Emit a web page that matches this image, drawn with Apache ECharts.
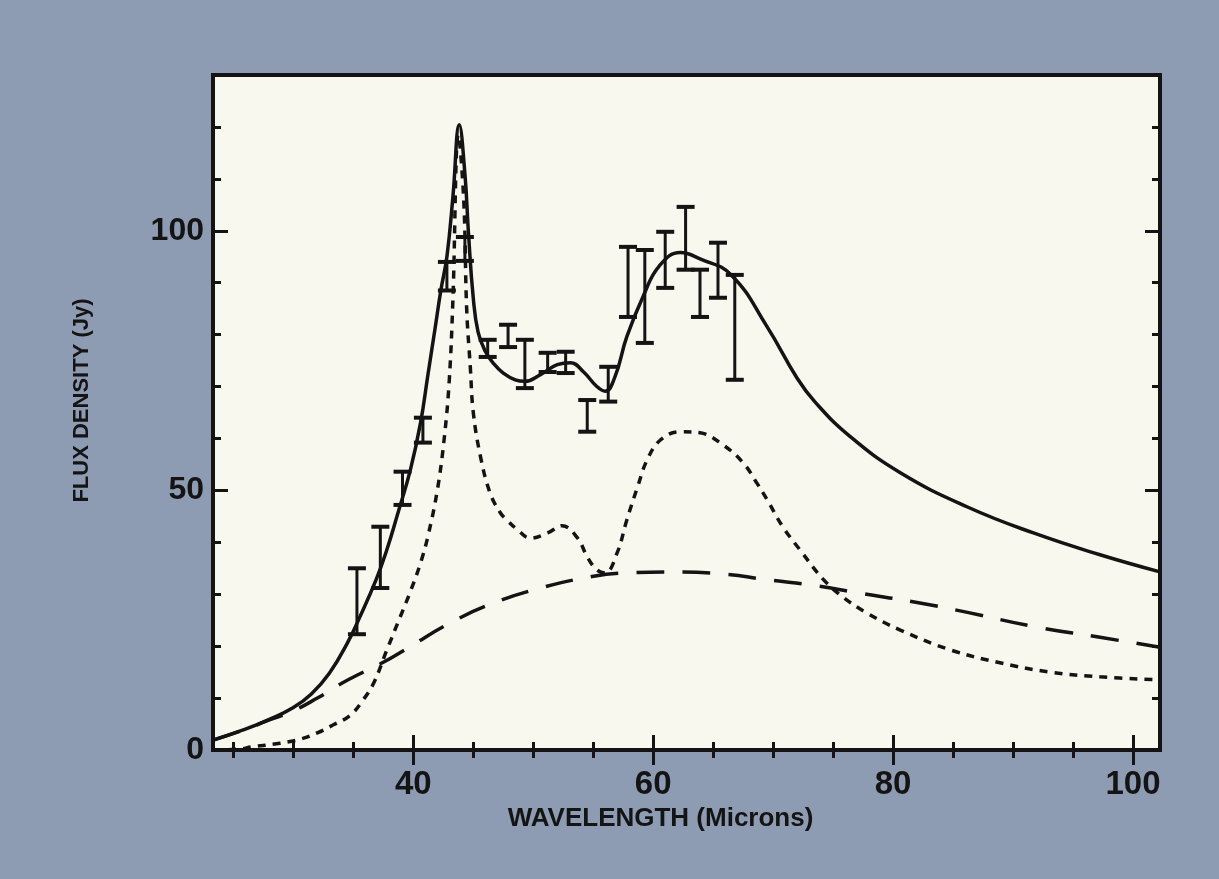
<!DOCTYPE html>
<html>
<head>
<meta charset="utf-8">
<title>Flux density vs wavelength</title>
<script src="https://cdn.jsdelivr.net/npm/echarts@6/dist/echarts.min.js"></script>
<style>
  html, body { margin: 0; padding: 0; background: #8e9cb3; }
  #chart { width: 1219px; height: 879px; }
</style>
</head>
<body>
<div id="chart"></div>
<script>
// wavelength (microns) / flux density (Jy)
const totalFit = [
  [23.3, 1.9], [26, 4.0], [28, 5.9], [30, 8.2], [31.5, 10.8], [33, 14.8], [34.5, 20.6],
  [35.5, 25.4], [36.9, 32.8], [37.8, 38.6], [38.7, 45.5], [39.75, 53.9], [40.6, 63],
  [41.2, 72], [41.8, 81], [42.3, 88.6], [42.8, 95], [43.3, 106.5], [43.83, 120.4],
  [44.3, 111], [44.6, 99.5], [45.0, 87], [45.4, 80.5], [46.0, 76.8], [46.7, 74.4],
  [47.5, 72.6], [48.5, 71.3], [49.3, 71.0], [50.6, 72.3], [52.0, 74.2], [53.1, 74.6],
  [54.2, 72.8], [55.3, 70], [56.0, 69.1], [56.8, 71.8], [57.8, 79.6], [59.2, 87.6],
  [60.5, 93.2], [62.25, 95.8], [63.9, 94.6], [66.5, 91.5], [69.5, 81.5], [72, 71.6],
  [73.5, 67.0], [76.4, 60.4], [80.6, 53.4], [86.2, 46.8], [91.7, 41.8], [97.25, 37.6],
  [102.25, 34.3]
];
const bandFit = [
  [23.3, 0], [25.6, 0.2], [26.5, 0.6], [28.9, 1.3], [30.6, 2.1], [32, 3.3], [33.3, 4.8],
  [34.75, 6.7], [35.8, 9.6], [36.7, 12.9], [37.8, 19.3], [38.9, 25.6], [39.75, 30.5],
  [40.6, 36], [41.2, 41], [42.0, 50], [42.6, 60.5], [43.0, 71.3], [43.3, 86.7],
  [43.75, 118.5], [44.2, 106], [44.45, 84.8], [44.75, 73.8], [45, 65], [45.6, 56.5],
  [46.4, 49.5], [47.25, 45.7], [47.8, 44.3], [48.7, 42.4], [49.75, 40.8], [51.2, 41.8],
  [52.4, 43.2], [53.7, 40.8], [54.5, 37.2], [55.3, 34.7], [56.0, 34.1], [57.0, 38],
  [57.8, 44.3], [58.7, 50.7], [59.5, 55.9], [60.6, 59.7], [62.25, 61.3], [63.9, 61.1],
  [65.8, 58.8], [67.5, 55.3], [68.7, 51.2], [69.5, 48.2], [70.8, 43], [72.25, 38.5],
  [74.2, 32.8], [75.8, 29.5], [77.8, 26.4], [80.6, 23.1], [84.75, 19.3], [88.9, 16.8],
  [93.1, 15], [97.25, 14.1], [102.25, 13.5]
];
const continuumFit = [
  [23.3, 1.9], [26, 4.0], [28, 5.8], [29.75, 7.3], [32, 10], [34, 12.8], [36, 15.2],
  [37.5, 16.9], [39.5, 19.6], [43.1, 24.5], [46.7, 28.3], [50.6, 31.2], [54.2, 33.1],
  [57.5, 34.1], [61.7, 34.3], [65.8, 33.9], [69.5, 32.8], [73.7, 31.6], [77.25, 30.2],
  [82, 28.4], [86.2, 26.5], [91.7, 23.8], [97.25, 21.7], [102.25, 19.8]
];

// measured points with error bars
const errX    = [35.3, 37.25, 39.1, 40.8, 42.8, 44.3, 46.2, 47.9, 49.3, 51.2, 52.7, 54.5, 56.25, 57.9, 59.3, 61.0, 62.7, 63.9, 65.4, 66.8];
const errLow  = [22.3, 31.2, 47.2, 59.2, 88.5, 94.2, 75.7, 77.6, 69.7, 72.8, 72.6, 61.3, 67.1, 83.4, 78.4, 89.0, 92.5, 83.4, 87.1, 71.3];
const errHigh = [35.0, 43.0, 53.6, 64.0, 94.0, 98.8, 79.0, 81.9, 79.0, 76.5, 76.7, 67.4, 73.8, 96.9, 96.3, 99.8, 104.6, 92.5, 97.7, 91.5];

// ticks
const xMinorTicks = [25, 30, 35, 40, 45, 50, 55, 60, 65, 70, 75, 80, 85, 90, 95, 100];
const xLabels = [40, 60, 80, 100];
const yMinorTicks = [10, 20, 30, 40, 50, 60, 70, 80, 90, 100, 110, 120];
const yLabels = [0, 50, 100];

const ink = '#141414';
const font = "'Liberation Sans', Arial, sans-serif";
const xMin = 23.3, xMax = 102.25, yMin = 0, yMax = 130;

function xAxisOf(position, ticks, len, labels) {
  return {
    type: 'value', position: position, min: xMin, max: xMax,
    axisLine: { show: false },
    splitLine: { show: false },
    axisTick: { show: true, inside: true, length: len, customValues: ticks,
                lineStyle: { color: ink, width: 3 } },
    axisLabel: labels ? { customValues: labels, margin: 18, color: ink,
                          fontSize: 33, fontWeight: 'bold', fontFamily: font }
                      : { show: false }
  };
}
function yAxisOf(position, ticks, len, labels) {
  return {
    type: 'value', position: position, min: yMin, max: yMax,
    axisLine: { show: false },
    splitLine: { show: false },
    axisTick: { show: true, inside: true, length: len, customValues: ticks,
                lineStyle: { color: ink, width: 3 } },
    axisLabel: labels ? { customValues: labels, margin: 9, color: ink,
                          fontSize: 32, fontWeight: 'bold', fontFamily: font }
                      : { show: false }
  };
}

const xAxes = [
  xAxisOf('bottom', xMinorTicks, 8, xLabels),
  xAxisOf('bottom', xLabels, 15, null),
  xAxisOf('top', xMinorTicks, 8, null),
  xAxisOf('top', xLabels, 15, null)
];
xAxes[0].name = 'WAVELENGTH (Microns)';
xAxes[0].nameLocation = 'middle';
xAxes[0].nameGap = 55;
xAxes[0].nameTextStyle = { color: ink, fontSize: 26, fontWeight: 'bold', fontFamily: font, padding: [0, 52, 0, 0] };

const yAxes = [
  yAxisOf('left', yMinorTicks, 8, yLabels),
  yAxisOf('left', yLabels, 15, null),
  yAxisOf('right', yMinorTicks, 8, null),
  yAxisOf('right', yLabels, 15, null)
];
yAxes[0].name = 'FLUX DENSITY (Jy)';
yAxes[0].nameLocation = 'middle';
yAxes[0].nameGap = 120;
yAxes[0].nameTextStyle = { color: ink, fontSize: 22, fontWeight: 'bold', fontFamily: font, padding: [0, 0, 0, 24] };

const errData = errX.map((x, i) => [x, errLow[i], errHigh[i]]);

function renderErrorBar(params, api) {
  const x = api.value(0);
  const top = api.coord([x, api.value(2)]);
  const bot = api.coord([x, api.value(1)]);
  const w = 9;
  const st = { stroke: ink, lineWidth: 3 };
  const cap = { stroke: ink, lineWidth: 4 };
  return {
    type: 'group',
    children: [
      { type: 'line', shape: { x1: top[0], y1: top[1], x2: bot[0], y2: bot[1] }, style: st },
      { type: 'line', shape: { x1: top[0] - w, y1: top[1], x2: top[0] + w, y2: top[1] }, style: cap },
      { type: 'line', shape: { x1: bot[0] - w, y1: bot[1], x2: bot[0] + w, y2: bot[1] }, style: cap }
    ]
  };
}

const chart = echarts.init(document.getElementById('chart'), null, { renderer: 'canvas' });
chart.setOption({
  animation: false,
  backgroundColor: '#8e9cb3',
  grid: {
    left: 213, right: 59, top: 75, bottom: 129,
    show: true, backgroundColor: '#f8f8ef',
    borderColor: ink, borderWidth: 4
  },
  xAxis: xAxes,
  yAxis: yAxes,
  series: [
    {
      name: 'continuum', type: 'line', data: continuumFit, smooth: 0.5,
      showSymbol: false, clip: true,
      lineStyle: { color: ink, width: 3.5, type: [28, 18] }
    },
    {
      name: 'bands', type: 'line', data: bandFit, smooth: 0.4,
      showSymbol: false, clip: true,
      lineStyle: { color: ink, width: 3.5, type: [8, 7] }
    },
    {
      name: 'total', type: 'line', data: totalFit, smooth: 0.45,
      showSymbol: false, clip: true,
      lineStyle: { color: ink, width: 3.5 }
    },
    {
      name: 'measured', type: 'custom', data: errData,
      encode: { x: 0, y: [1, 2] },
      renderItem: renderErrorBar
    }
  ]
});
</script>
</body>
</html>
